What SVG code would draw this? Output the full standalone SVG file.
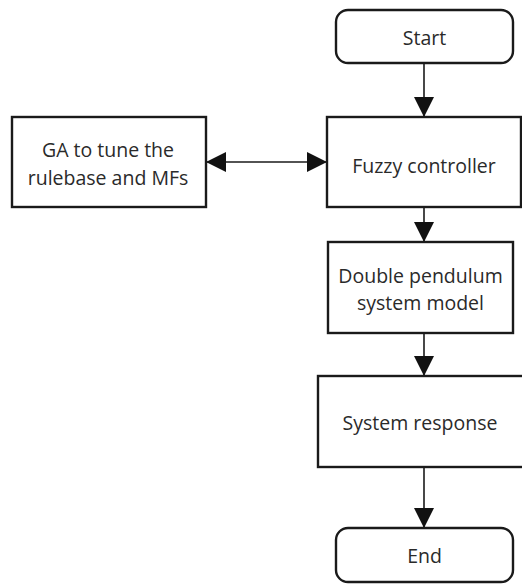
<svg xmlns="http://www.w3.org/2000/svg" width="522" height="584" viewBox="0 0 522 584">
  <style>
    .box { fill: #ffffff; stroke: #1a1a1a; stroke-width: 2.4; }
    .term { fill: #ffffff; stroke: #1a1a1a; stroke-width: 2.4; }
    .label { font-family: "Open Sans", "Noto Sans", sans-serif; font-size: 19.5px; fill: #2a2a2a; text-anchor: middle; }
    .conn { stroke: #1a1a1a; stroke-width: 1.6; fill: none; }
  </style>
  <defs>
    <marker id="arrow" viewBox="0 0 20 20" refX="20" refY="10" markerWidth="20" markerHeight="20" markerUnits="userSpaceOnUse" orient="auto-start-reverse">
      <path d="M0,0 L20,10 L0,20 Z" fill="#111111"/>
    </marker>
  </defs>
  <rect width="522" height="584" fill="#ffffff"/>

  <g id="connectors">
    <line class="conn" x1="424" y1="63" x2="424" y2="117" marker-end="url(#arrow)"/>
    <line class="conn" x1="206" y1="162" x2="327" y2="162" marker-start="url(#arrow)" marker-end="url(#arrow)"/>
    <line class="conn" x1="424" y1="207" x2="424" y2="242" marker-end="url(#arrow)"/>
    <line class="conn" x1="424" y1="333" x2="424" y2="376" marker-end="url(#arrow)"/>
    <line class="conn" x1="424" y1="467" x2="424" y2="528" marker-end="url(#arrow)"/>
  </g>

  <g id="start">
    <rect class="term" x="336" y="10" width="177" height="53" rx="12" ry="12"/>
    <text class="label" x="424.5" y="45">Start</text>
  </g>

  <g id="ga">
    <rect class="box" x="12" y="117" width="194" height="90"/>
    <text class="label" x="108" y="157">GA to tune the</text>
    <text class="label" x="108" y="185">rulebase and MFs</text>
  </g>

  <g id="fuzzy">
    <rect class="box" x="327" y="117" width="194" height="90"/>
    <text class="label" x="424" y="173">Fuzzy controller</text>
  </g>

  <g id="pendulum">
    <rect class="box" x="328" y="242" width="185" height="91"/>
    <text class="label" x="420.5" y="283">Double pendulum</text>
    <text class="label" x="420.5" y="310">system model</text>
  </g>

  <g id="response">
    <rect class="box" x="318" y="376" width="210" height="91"/>
    <text class="label" x="420" y="430">System response</text>
  </g>

  <g id="end">
    <rect class="term" x="336" y="528" width="177" height="54" rx="12" ry="12"/>
    <text class="label" x="424.5" y="563">End</text>
  </g>
</svg>
